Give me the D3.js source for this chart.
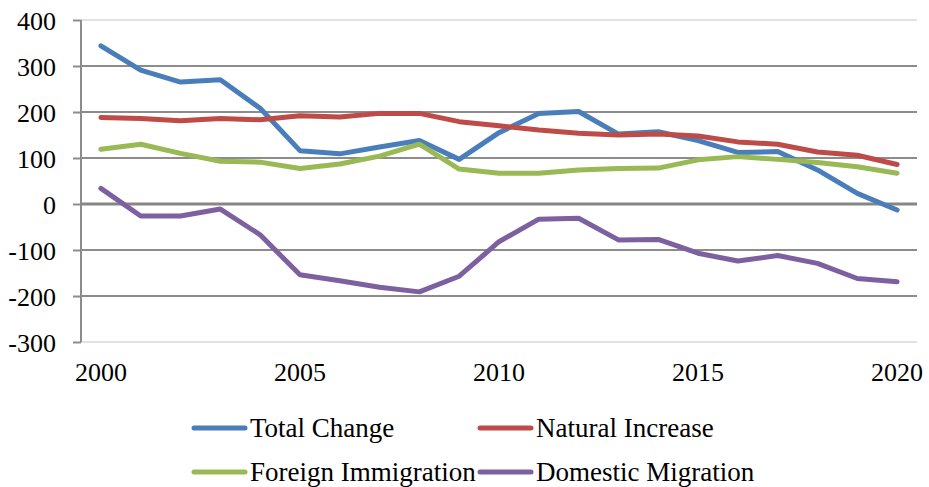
<!DOCTYPE html>
<html><head><meta charset="utf-8">
<script src="https://cdn.jsdelivr.net/npm/d3@7"></script>
<style>body{margin:0;background:#fff}svg{display:block}</style>
</head><body><svg id="c" width="929" height="487"></svg>
<script>
const years = d3.range(2000, 2021);
const xTickLabels = [2000, 2005, 2010, 2015, 2020];
const yTicks = [-300, -200, -100, 0, 100, 200, 300, 400];
const seriesNames = ["Total Change", "Natural Increase", "Foreign Immigration", "Domestic Migration"];
const seriesColors = ["#4a7ebb", "#be4b48", "#98b954", "#7d60a0"];
const totalChange = [344, 291, 265, 270, 208, 116, 109, 124, 138, 97, 155, 197, 201, 152, 157, 138, 112, 114, 74, 23, -13];
const naturalIncrease = [188, 186, 181, 186, 183, 192, 189, 197, 197, 179, 170, 161, 154, 150, 152, 148, 135, 130, 113, 106, 86];
const foreignImmigration = [119, 130, 110, 93, 91, 77, 87, 104, 130, 76, 67, 67, 74, 77, 78, 96, 103, 97, 90, 81, 67];
const domesticMigration = [34, -26, -26, -11, -67, -154, -167, -181, -191, -157, -82, -33, -31, -78, -77, -107, -124, -112, -129, -162, -169];
const seriesValues = [totalChange, naturalIncrease, foreignImmigration, domesticMigration];

const svg = d3.select("#c");
const FONT = "Liberation Serif";
const L = 81, R = 917, T = 20, B = 342;
const x = d3.scaleBand().domain(years).range([L, R]);
const y = d3.scaleLinear().domain([-300, 400]).range([B, T]);
const cx = d => x(d) + x.bandwidth() / 2;

// plot border light lines
svg.append("line").attr("x1", L).attr("x2", R).attr("y1", T).attr("y2", T).attr("stroke", "#d9d9d9").attr("stroke-width", 1.5);
svg.append("line").attr("x1", L).attr("x2", R).attr("y1", B).attr("y2", B).attr("stroke", "#d9d9d9").attr("stroke-width", 1.5);

// gridlines
svg.append("g").selectAll("line").data(yTicks.filter(v => v !== 0 && v !== 400 && v !== -300)).join("line")
  .attr("x1", L).attr("x2", R).attr("y1", d => y(d)).attr("y2", d => y(d))
  .attr("stroke", "#8c8c8c").attr("stroke-width", 2);

// y axis
const yAxis = svg.append("g").attr("transform", `translate(${L},0)`)
  .call(d3.axisLeft(y).tickValues(yTicks).tickSize(8).tickPadding(17).tickFormat(d => String(d)));
yAxis.attr("font-family", null).attr("font-size", null);
yAxis.select(".domain").attr("stroke", "#8c8c8c").attr("stroke-width", 2).attr("d", `M0,${T}V${B}`);
yAxis.selectAll(".tick line").attr("stroke", "#8c8c8c").attr("stroke-width", 2);
yAxis.selectAll("text").style("font-family", FONT).style("font-size", "26px").attr("fill", "#000").attr("dy", "0.36em");

// zero line (x axis)
svg.append("line").attr("x1", L).attr("x2", R).attr("y1", y(0)).attr("y2", y(0))
  .attr("stroke", "#868686").attr("stroke-width", 3);

// x labels
const xAxis = svg.append("g").attr("transform", `translate(0,${B})`)
  .call(d3.axisBottom(x).tickValues(xTickLabels).tickSize(0).tickPadding(21).tickFormat(d => String(d)));
xAxis.attr("font-family", null).attr("font-size", null);
xAxis.select(".domain").remove();
xAxis.selectAll("text").style("font-family", FONT).style("font-size", "26px").attr("fill", "#000").attr("dy", "0.71em");

// lines
const line = d3.line().x((d, i) => cx(years[i])).y(d => y(d));
seriesValues.forEach((vals, i) => {
  svg.append("path").datum(vals).attr("d", line).attr("fill", "none")
    .attr("stroke", seriesColors[i]).attr("stroke-width", 5)
    .attr("stroke-linejoin", "round").attr("stroke-linecap", "round");
});

// legend
const legendPos = [[194, 428], [480, 428], [194, 472], [480, 472]];
seriesNames.forEach((n, i) => {
  const [lx, ly] = legendPos[i];
  svg.append("line").attr("x1", lx).attr("x2", lx + 51).attr("y1", ly).attr("y2", ly)
    .attr("stroke", seriesColors[i]).attr("stroke-width", 5).attr("stroke-linecap", "round");
  svg.append("text").attr("x", lx + 56).attr("y", ly).attr("dy", "0.34em")
    .style("font-family", FONT).style("font-size", "27px").attr("fill", "#000").text(n);
});
</script></body></html>
